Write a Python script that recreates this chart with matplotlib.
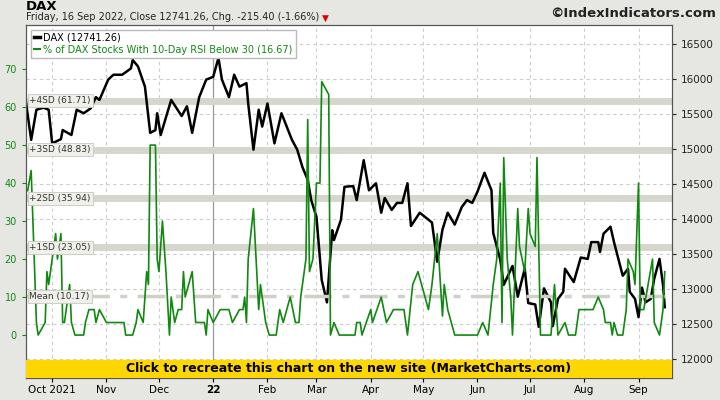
import matplotlib
matplotlib.use("Agg")
import matplotlib.pyplot as plt
import pandas as pd

START = pd.Timestamp("2021-09-16")

# DAX close, (calendar-day offset from START, value)
dax_day = [0, 3, 6, 10, 13, 15, 20, 21, 26, 29, 33, 37, 40, 42, 47, 50, 55, 60, 61, 64,
           68, 71, 74, 75, 77, 83, 89, 92, 95, 99, 103, 107, 110, 112, 116, 119, 122, 126, 127, 130,
           133, 135, 138, 142, 146, 152, 155, 158, 161, 163, 166, 169, 172, 175, 176, 180, 182, 187, 189, 193,
           196, 200, 203, 205, 209, 212, 215, 218, 220, 225, 232, 235, 238, 241, 245, 249, 252, 255, 258, 262,
           266, 267, 271, 273, 278, 281, 285, 287, 291, 293, 296, 300, 301, 304, 307, 308, 313, 317, 321, 323,
           327, 328, 330, 334, 336, 341, 344, 345, 348, 350, 352, 354, 357, 359, 362, 364, 365]
dax_val = [15670, 15130, 15560, 15590, 15560, 15080, 15140, 15270, 15200, 15560, 15510, 15580, 15740, 15700, 15990, 16060, 16060, 16150, 16270, 16180,
           15890, 15230, 15270, 15510, 15200, 15700, 15470, 15610, 15230, 15740, 15990, 16030, 16300, 15990, 15740, 16060, 15890, 15940, 15650, 14990,
           15560, 15320, 15650, 15080, 15510, 15130, 14990, 14740, 14560, 14270, 14030, 13130, 12810, 13840, 13700, 13990, 14460, 14470, 14270, 14840,
           14410, 14510, 14090, 14300, 14130, 14230, 14230, 14510, 13900, 14090, 13950, 13390, 13850, 14090, 13920, 14170, 14270, 14230, 14390, 14660,
           14410, 13800, 13420, 13060, 13330, 12890, 13290, 12800, 12780, 12460, 13010, 12810, 12470, 12860, 12960, 13290, 13100, 13450, 13430, 13670,
           13670, 13530, 13790, 13890, 13670, 13190, 13290, 12960, 12860, 12600, 13020, 12810, 12860, 13150, 13430, 13060, 12741.26]

# % of DAX stocks with 10-day RSI below 30
rsi_day = [1, 3, 6, 7, 11, 12, 13, 15, 17, 18, 20, 21, 22, 25, 26, 28, 33, 34, 36, 39,
           40, 42, 46, 56, 57, 61, 63, 64, 67, 69, 70, 71, 74, 75, 76, 78, 80, 82, 83, 85,
           87, 89, 90, 91, 95, 97, 102, 103, 104, 107, 111, 116, 118, 122, 124, 125, 126, 127, 130, 133,
           134, 137, 139, 143, 145, 147, 149, 151, 154, 156, 157, 160, 161, 162, 164, 166, 168, 169, 173, 174,
           176, 179, 188, 189, 191, 192, 197, 198, 203, 206, 210, 216, 218, 221, 224, 230, 232, 235, 238, 239,
           241, 245, 258, 261, 264, 267, 269, 271, 272, 273, 275, 277, 278, 281, 282, 285, 287, 288, 291, 292,
           294, 300, 302, 304, 308, 310, 314, 316, 324, 327, 330, 331, 334, 335, 336, 338, 341, 343, 344, 347,
           348, 350, 351, 353, 358, 359, 362, 364, 365]
rsi_val = [38, 43.3, 3.3, 0, 3.3, 16.7, 13.3, 20, 26.7, 20, 26.7, 3.3, 3.3, 13.3, 3.3, 0, 0, 3.3, 6.7, 6.7,
           3.3, 6.7, 3.3, 3.3, 0, 0, 3.3, 6.7, 3.3, 16.7, 13.3, 50, 50, 20, 16.7, 30, 16.7, 0, 10, 3.3,
           6.7, 6.7, 16.7, 10, 16.7, 3.3, 3.3, 0, 6.7, 3.3, 6.7, 6.7, 3.3, 6.7, 6.7, 10, 3.3, 20, 33.3, 6.7,
           13.3, 3.3, 0, 0, 6.7, 3.3, 6.7, 10, 3.3, 3.3, 10, 20, 56.7, 16.7, 20, 40, 40, 66.7, 63.3, 0,
           3.3, 0, 0, 3.3, 3.3, 0, 6.7, 3.3, 10, 3.3, 6.7, 6.7, 0, 13.3, 16.7, 6.7, 13.3, 26.7, 5, 13.3,
           6.7, 0, 0, 3.3, 0, 13.3, 20, 40, 3.3, 46.7, 20, 10, 0, 33.3, 23.3, 16.7, 33.3, 26.7, 23.3, 46.7,
           0, 0, 13.3, 0, 3.3, 0, 0, 6.7, 6.7, 10, 6.7, 3.3, 3.3, 0, 3.3, 0, 0, 6.7, 20, 16.7,
           13.3, 40, 6.7, 6.7, 20, 3.3, 0, 6.7, 16.67]

sd_levels = [61.71, 48.83, 35.94, 23.05]
sd_names = ["+4SD", "+3SD", "+2SD", "+1SD"]
mean_level = 10.17

dax_dates = [START + pd.Timedelta(days=d) for d in dax_day]
rsi_dates = [START + pd.Timedelta(days=d) for d in rsi_day]

green = "#118811"
fig = plt.figure(figsize=(7.2, 4.0), dpi=100, facecolor="#e6e6e3")
ax = fig.add_axes([0.036, 0.055, 0.897, 0.8825])
ax2 = ax.twinx()
ax.set_zorder(ax2.get_zorder() + 1)
ax.patch.set_visible(False)
ax2.patch.set_visible(True)
ax2.set_facecolor("white")

xmin, xmax = pd.Timestamp("2021-09-16"), pd.Timestamp("2022-09-20")
ax.set_xlim(xmin, xmax)
ax.set_ylim(-11.3, 81.6)
ax2.set_ylim(11730, 16770)

# right-axis grid and month grid
for v in range(12000, 16501, 500):
    ax2.axhline(v, color="#cccccc", lw=0.8, ls=(0, (3, 3)), zorder=0)
months = pd.date_range("2021-10-01", "2022-09-01", freq="MS")
for m in months:
    if m.month == 1:
        ax2.axvline(m, color="#999999", lw=0.9, zorder=0)
    else:
        ax2.axvline(m, color="#cccccc", lw=0.8, ls=(0, (3, 3)), zorder=0)

# SD bands (drawn on the back axes so they sit under both series)
lo, hi = ax.get_ylim()
lo2, hi2 = ax2.get_ylim()
for lev, name in zip(sd_levels, sd_names):
    ax2.axhline(lo2 + (lev - lo) / (hi - lo) * (hi2 - lo2), color="#d6d6cc", lw=5, zorder=1)
    ax.text(pd.Timestamp("2021-09-18"), lev, f"{name} ({lev:.2f})", fontsize=6.5, color="#333333",
            va="center", ha="left", zorder=5,
            bbox=dict(boxstyle="square,pad=0.2", fc="#f0f0ea", ec="#c8c8c0", lw=0.6))
ax.axhline(mean_level, color="#d0d0c8", lw=2.5, ls=(0, (8, 3, 2, 3)), zorder=1)
ax.text(pd.Timestamp("2021-09-18"), mean_level, f"Mean ({mean_level:.2f})", fontsize=6.5, color="#333333",
        va="center", ha="left", zorder=5,
        bbox=dict(boxstyle="square,pad=0.2", fc="#f0f0ea", ec="#c8c8c0", lw=0.6))

ax2.plot(dax_dates, dax_val, color="black", lw=1.8, zorder=3)
l1, = ax.plot([], [], color="black", lw=2.5)
ax.plot(rsi_dates, rsi_val, color=green, lw=1.2, zorder=3)
l2, = ax.plot([], [], color=green, lw=1.5)

# banner
ax.axhspan(-11.3, -6.6, color="#ffd700", zorder=4)
ax.text(0.5, -8.9, "Click to recreate this chart on the new site (MarketCharts.com)",
        transform=ax.get_yaxis_transform(), ha="center", va="center", fontsize=9,
        fontweight="bold", color="black", zorder=6)

ax.set_yticks(range(0, 71, 10))
ax.tick_params(axis="y", colors=green, labelsize=7, length=3, direction="out")
ax2.set_yticks(range(12000, 16501, 500))
ax2.tick_params(axis="y", labelsize=7.5, length=3, colors="#222222")
ax.set_xticks(months)
ax.set_xticklabels(["Oct 2021" if m.month == 10 else ("22" if m.month == 1 else m.strftime("%b"))
                    for m in months], fontsize=7.5)
for lab in ax.get_xticklabels():
    if lab.get_text() == "22":
        lab.set_fontweight("bold")
ax.tick_params(axis="x", length=3, pad=2)
for a in (ax, ax2):
    for s in a.spines.values():
        s.set_color("#555555")

leg = ax.legend([l1, l2], ["DAX (12741.26)", "% of DAX Stocks With 10-Day RSI Below 30 (16.67)"],
                loc="upper left", fontsize=7, handlelength=0.6, borderpad=0.3, labelspacing=0.2,
                handletextpad=0.4, fancybox=False, framealpha=1, edgecolor="#bbbbbb",
                bbox_to_anchor=(0.0, 1.0))
leg.get_texts()[1].set_color(green)
leg.set_zorder(7)

fig.text(0.036, 0.985, "DAX", fontsize=9.5, fontweight="bold", va="center")
sub = fig.text(0.036, 0.957, "Friday, 16 Sep 2022, Close 12741.26, Chg. -215.40 (-1.66%)",
               fontsize=7, va="center", color="#222222")
fig.text(0.447, 0.955, "\u25bc", fontsize=6.5, color="#dd0000", va="center")
fig.text(0.995, 0.966, "\u00a9IndexIndicators.com", fontsize=9.5, fontweight="bold",
         ha="right", va="center", color="#222222")

fig.savefig("out.png", dpi=100, facecolor=fig.get_facecolor())
